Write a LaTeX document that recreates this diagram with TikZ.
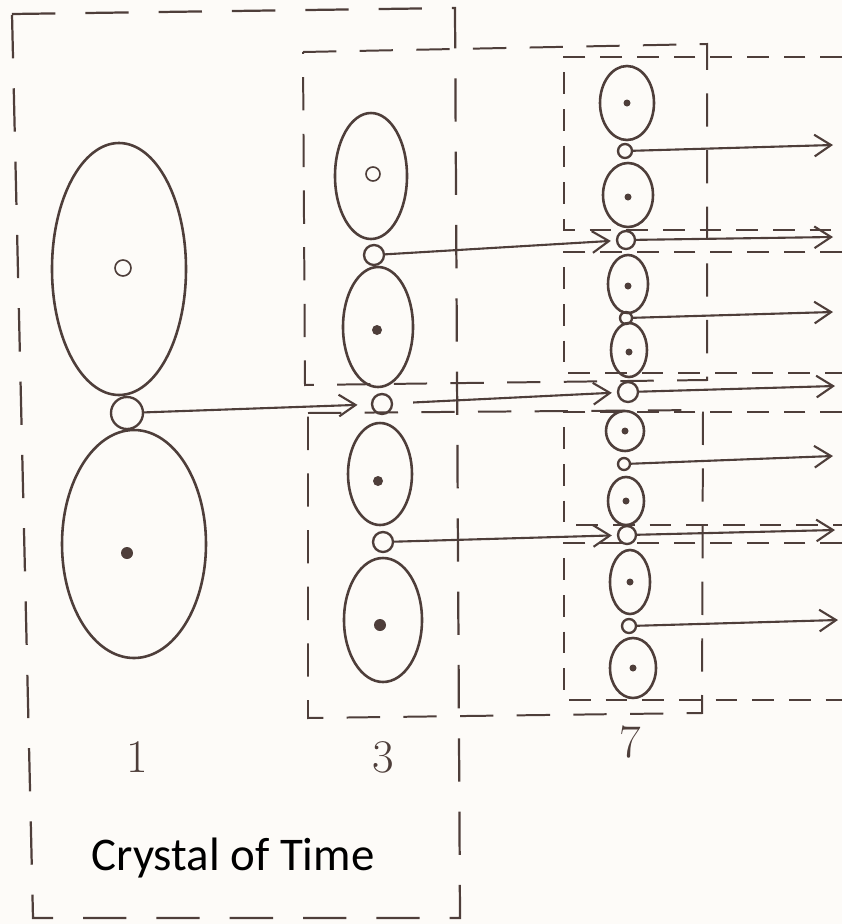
\documentclass[tikz,border=0pt]{standalone}
\usepackage{fontspec}
\newfontfamily\titlefont{Carlito}
\usepackage{tikz}
\usetikzlibrary{arrows.meta,shapes.geometric}
\definecolor{ink}{RGB}{78,62,58}
\definecolor{paper}{RGB}{253,251,248}

\begin{document}
\begin{tikzpicture}[
  x=0.3mm, y=-0.3mm,
  egg/.style 2 args={draw=ink, ellipse, line width=2.2pt, inner sep=0pt,
    minimum width=#1*0.6mm, minimum height=#2*0.6mm},
  knot/.style={draw=ink, circle, line width=2pt, inner sep=0pt,
    minimum size=#1*0.6mm},
  seed/.style={fill=ink, circle, inner sep=0pt, minimum size=#1*0.6mm},
  ring/.style={draw=ink, circle, line width=1.4pt, inner sep=0pt,
    minimum size=#1*0.6mm},
  frameA/.style={draw=ink, line width=1.9pt, dash pattern=on 13mm off 9mm},
  frameB/.style={draw=ink, line width=1.7pt, dash pattern=on 10mm off 7mm},
  frameC/.style={draw=ink, line width=1.4pt, dash pattern=on 6.5mm off 4.5mm},
  arr/.style={draw=ink, line width=1.8pt, -{Straight Barb[length=5mm,width=6.5mm]}},
  digit/.style={text=ink, font=\fontsize{40}{40}\selectfont}
]
\fill[paper] (0,0) rectangle (842,924);
\useasboundingbox (0,0) rectangle (842,924);

\draw[frameA] (12,14) -- (455,8) -- (460,918) -- (33,918) -- cycle;
\draw[frameB] (303,52) -- (707,44) -- (707,380) -- (305,385) -- cycle;
\draw[frameB] (308,413) -- (703,410) -- (702,713) -- (308,718) -- cycle;
\draw[frameC] (842,57) -- (564,57) -- (564,230) -- (842,230);
\draw[frameC] (842,252) -- (564,252) -- (564,373) -- (842,373);
\draw[frameC] (842,412) -- (564,412) -- (564,525) -- (842,525);
\draw[frameC] (842,543) -- (564,543) -- (564,700) -- (842,700);

\node[egg={67}{126}] (e1a) at (119,269) {};
\node[knot=16] (c1) at (127,413) {};
\node[egg={72}{114}] (e1b) at (134,544) {};
\node[ring=8] (d1a) at (123,268) {};
\node[seed=6] (d1b) at (127,553) {};

\node[egg={36}{63}] (e3a) at (371,176) {};
\node[knot=10] (c31) at (374,255) {};
\node[egg={35}{60}] (e3b) at (378,327) {};
\node[knot=10] (c32) at (382,404) {};
\node[egg={32}{51}] (e3c) at (380,474) {};
\node[knot=10] (c33) at (383,542) {};
\node[egg={39}{62}] (e3d) at (383,620) {};
\node[ring=7] (d3a) at (373,174) {};
\node[seed=5] (d3b) at (377,330) {};
\node[seed=5] (d3c) at (378,481) {};
\node[seed=6] (d3d) at (380,625) {};

\node[egg={27}{37}] (e7a) at (627,103) {};
\node[knot=7] (c71) at (625,151) {};
\node[egg={25}{32}] (e7b) at (628,195) {};
\node[knot=9] (c72) at (626,240) {};
\node[egg={20}{29}] (e7c) at (628,284) {};
\node[knot=6] (c73) at (626,318) {};
\node[egg={18}{27}] (e7d) at (629,350) {};
\node[knot=10] (c74) at (628,392) {};
\node[egg={19}{20}] (e7e) at (625,431) {};
\node[knot=6] (c75) at (624,464) {};
\node[egg={18}{24}] (e7f) at (626,501) {};
\node[knot=9] (c76) at (627,535) {};
\node[egg={20}{32}] (e7g) at (630,582) {};
\node[knot=7] (c77) at (629,626) {};
\node[egg={23}{30}] (e7h) at (633,668) {};
\foreach \n/\p in {a/{627,103},b/{628,197},c/{628,286},d/{629,352},e/{625,431},f/{626,501},g/{630,582},h/{633,668}}
  \node[seed=3.5] (d7\n) at (\p) {};

\coordinate (r1) at (833,145);
\coordinate (r2) at (833,237);
\coordinate (r3) at (833,312);
\coordinate (r4) at (835,386);
\coordinate (r5) at (833,456);
\coordinate (r6) at (835,530);
\coordinate (r7) at (838,620);

\draw[arr, shorten >=4mm] (c1) -- (c32);
\draw[arr, shorten >=1.5mm] (c31) -- (c72);
\draw[arr, shorten <=6mm, shorten >=1.5mm] (c32) -- (c74);
\draw[arr, shorten >=1.5mm] (c33) -- (c76);
\foreach \i in {1,...,7}
  \draw[arr] (c7\i) -- (r\i);

\node[digit] (n1) at (137,757) {1};
\node[digit] (n3) at (383,757) {3};
\node[digit] (n7) at (630,742) {7};
\node[font=\titlefont\fontsize{40}{40}\selectfont, anchor=base] (title) at (233,870) {Crystal of Time};
\end{tikzpicture}
\end{document}
